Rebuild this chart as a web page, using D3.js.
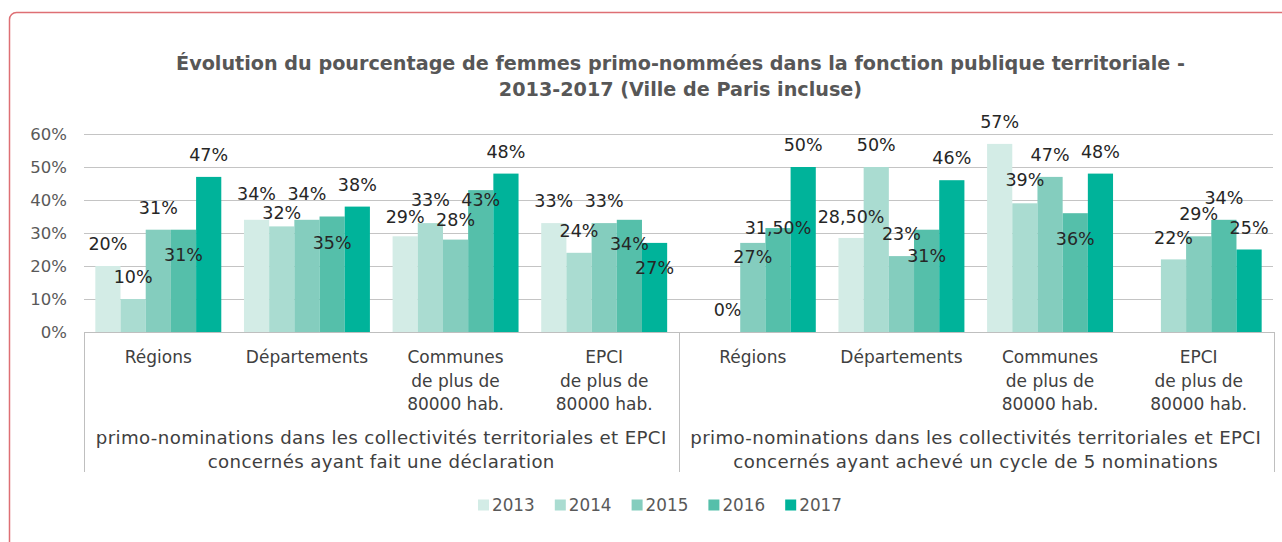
<!DOCTYPE html>
<html>
<head>
<meta charset="utf-8">
<script src="https://cdn.jsdelivr.net/npm/d3@7"></script>
<style>
  body { margin: 0; background: #fff; }
  svg { display: block; }
  text { font-family: "DejaVu Sans", sans-serif; }
</style>
</head>
<body>
<svg id="chart" width="1282" height="542"></svg>
<script>
// data
const years = ["2013", "2014", "2015", "2016", "2017"]
const categories = [
  ["Régions"],
  ["Départements"],
  ["Communes", "de plus de", "80000 hab."],
  ["EPCI", "de plus de", "80000 hab."]
]
const groupLabels = [
  ["primo-nominations dans les collectivités territoriales et EPCI", "concernés ayant fait une déclaration"],
  ["primo-nominations dans les collectivités territoriales et EPCI", "concernés ayant achevé un cycle de 5 nominations"]
]
// % per category, one value per year
const declaration = [
  [20, 10, 31, 31, 47],
  [34, 32, 34, 35, 38],
  [29, 33, 28, 43, 48],
  [33, 24, 33, 34, 27]
]
const cycle = [
  [null, 0, 27, 31.5, 50],
  [28.5, 50, 23, 31, 46],
  [57, 39, 47, 36, 48],
  [null, 22, 29, 34, 25]
]
const yTicks = [0, 10, 20, 30, 40, 50, 60]
const titleLines = ["Évolution du pourcentage de femmes primo-nommées dans la fonction publique territoriale -",
  "2013-2017 (Ville de Paris incluse)"]

// manual label nudges (px, relative to default spot above the bar)
const declShift = [[0, 0, 0, 47, 0], [-3.5, 8, -3.5, 48, 0], [3, -1, 2.5, 32, 0], [0, 0, 0, 46.5, 47]]
const cycleShift = [[0, 0, 36, 22, 0], [0.5, 0, 0, 48, 0], [0, -1, 0, 48, 0], [0, 0, 0, 0, 0]]

const colors = ["#d3ece6", "#aadcd1", "#84cdbe", "#55bfaa", "#00b39a"]

const LEFT = 84, RIGHT = 1273, TOP = 134, BASE = 332
const LABEL_DY = -22

var svg = d3.select("#chart")

// card border
svg.append("rect")
  .attr("x", 9.5).attr("y", 12.5)
  .attr("width", 1400).attr("height", 700)
  .attr("rx", 7)
  .attr("fill", "none")
  .attr("stroke", "#de6f74")
  .attr("stroke-width", 1.5)

// title
svg.append("g").selectAll("text").data(titleLines).enter().append("text")
  .attr("x", (LEFT + RIGHT) / 2 + 2)
  .attr("y", (d, i) => 63 + i * 26)
  .attr("dy", "0.35em")
  .attr("text-anchor", "middle")
  .attr("font-size", 19.2)
  .attr("font-weight", 700)
  .attr("fill", "#575757")
  .text(d => d)

// rows: 8 groups (2 blocks x 4 categories)
var rows = []
declaration.forEach((vals, i) => rows.push({ key: "d" + i, cat: categories[i], vals: vals, shift: declShift[i] }))
cycle.forEach((vals, i) => rows.push({ key: "c" + i, cat: categories[i], vals: vals, shift: cycleShift[i] }))

var x0 = d3.scaleBand().domain(rows.map(d => d.key)).range([LEFT, RIGHT])
var x1 = d3.scaleBand().domain(years).range([0, x0.bandwidth()]).paddingInner(0).paddingOuter(0.45)
var y = d3.scaleLinear().domain([0, 60]).range([BASE, TOP])

// gridlines
svg.append("g").selectAll("line").data(yTicks.filter(t => t > 0)).enter().append("line")
  .attr("x1", LEFT).attr("x2", RIGHT)
  .attr("y1", d => Math.round(y(d)) + 0.5).attr("y2", d => Math.round(y(d)) + 0.5)
  .attr("stroke", "#c4c4c4").attr("stroke-width", 1)

// y tick labels
svg.append("g").selectAll("text").data(yTicks).enter().append("text")
  .attr("x", 67)
  .attr("y", d => y(d))
  .attr("dy", "0.35em")
  .attr("text-anchor", "end")
  .attr("font-size", 16.5)
  .attr("fill", "#595959")
  .text(d => d + "%")

// bars
var fmt = v => (Number.isInteger(v) ? v : v.toFixed(2).replace(".", ",")) + "%"
var groups = svg.append("g").selectAll("g").data(rows).enter().append("g")
  .attr("transform", d => "translate(" + x0(d.key) + ",0)")

var cells = d => d.vals.map((v, j) => ({ year: years[j], v: v, j: j, shift: d.shift[j] })).filter(c => c.v !== null)

groups.selectAll("rect").data(cells).enter().append("rect")
  .attr("x", d => x1(d.year))
  .attr("y", d => y(d.v))
  .attr("width", x1.bandwidth())
  .attr("height", d => BASE - y(d.v))
  .attr("fill", d => colors[d.j])

groups.selectAll("text").data(cells).enter().append("text")
  .attr("x", d => x1(d.year) + x1.bandwidth() / 2)
  .attr("y", d => y(d.v) + LABEL_DY + d.shift)
  .attr("dy", "0.35em")
  .attr("text-anchor", "middle")
  .attr("font-size", 17.5)
  .attr("fill", "#262626")
  .text(d => fmt(d.v))

// category axis box
var axis = svg.append("g").attr("stroke", "#bfbfbf").attr("stroke-width", 1)
axis.append("line").attr("x1", LEFT).attr("x2", RIGHT + 1).attr("y1", BASE + 0.5).attr("y2", BASE + 0.5)
var mid = x0(rows[4].key)
;[LEFT, mid, RIGHT + 1].forEach(xx => {
  axis.append("line").attr("x1", Math.round(xx) + 0.5).attr("x2", Math.round(xx) + 0.5)
    .attr("y1", BASE).attr("y2", 472)
})

// category labels
groups.append("g").selectAll("text").data(d => d.cat).enter().append("text")
  .attr("x", x0.bandwidth() / 2)
  .attr("y", (d, i) => 357 + i * 23.7)
  .attr("dy", "0.35em")
  .attr("text-anchor", "middle")
  .attr("font-size", 17)
  .attr("fill", "#404040")
  .text(d => d)

// block labels
groupLabels.forEach((lines, b) => {
  var cx = b === 0 ? (LEFT + mid) / 2 : (mid + RIGHT) / 2
  svg.append("g").selectAll("text").data(lines).enter().append("text")
    .attr("x", cx)
    .attr("y", (d, i) => 438 + i * 23.5)
    .attr("dy", "0.35em")
    .attr("text-anchor", "middle")
    .attr("font-size", 18.2)
    .attr("letter-spacing", 0.35)
    .attr("fill", "#404040")
    .text(d => d)
})

// legend
var legend = svg.append("g").selectAll("g").data(years).enter().append("g")
  .attr("transform", (d, i) => "translate(" + (478 + i * 76.8) + ",505)")
legend.append("rect")
  .attr("x", 0).attr("y", -5.5)
  .attr("width", 11).attr("height", 11)
  .attr("fill", (d, i) => colors[i])
legend.append("text")
  .attr("x", 14)
  .attr("dy", "0.35em")
  .attr("font-size", 16.8)
  .attr("fill", "#595959")
  .text(d => d)
</script>
</body>
</html>
